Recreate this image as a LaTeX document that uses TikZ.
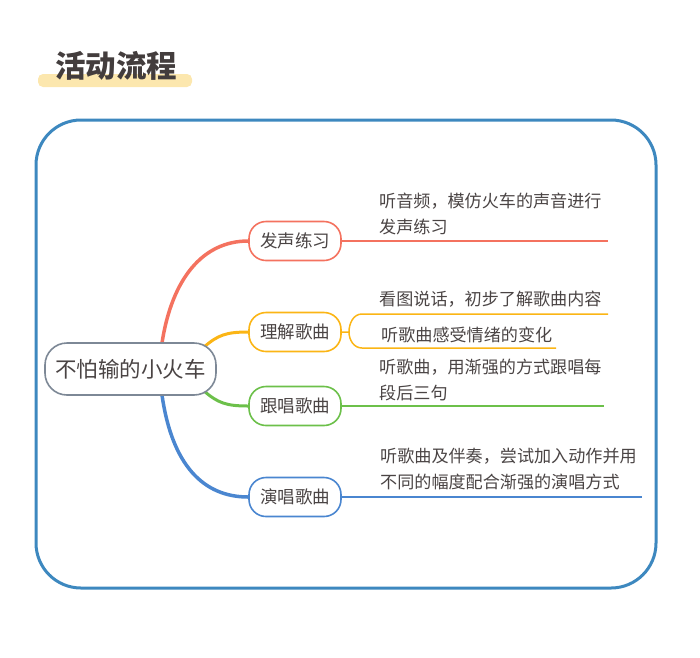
\documentclass[tikz,border=0pt]{standalone}
\usepackage{fontspec}
\setmainfont{Noto Sans CJK SC}
\usetikzlibrary{positioning}
\definecolor{txt}{HTML}{4A4444}
\definecolor{cred}{HTML}{F4725F}
\definecolor{cyel}{HTML}{FBB515}
\definecolor{cgrn}{HTML}{6CC04A}
\definecolor{cblu}{HTML}{4A86D0}
\definecolor{frm}{HTML}{3D88BF}
\definecolor{hilite}{HTML}{FCE7AE}
\definecolor{rootc}{HTML}{7D8896}

\begin{document}
\begin{tikzpicture}[x=1pt,y=-1pt,
  rootbox/.style = {draw=rootc, line width=1.6pt, rounded corners=22pt, fill=white, text=txt,
    minimum width=171pt, minimum height=52pt, font=\fontsize{21.5}{24}\selectfont},
  brbox/.style = {draw=#1, line width=1.6pt, rounded corners=17pt, fill=white, text=txt,
    minimum width=92pt, minimum height=39pt, font=\fontsize{17.5}{20}\selectfont},
  leaf/.style = {anchor=south west, inner sep=0pt, align=left, text=txt,
    font=\fontsize{17.1}{26}\selectfont}]
\useasboundingbox (0,0) rectangle (700,657);
% title
\fill[hilite, rounded corners=5pt] (38,74) rectangle (192,87);
\node (title) [text=txt!90!black, font=\fontsize{30.5}{33}\selectfont\bfseries] at (116,66) {活动流程};
\draw[frm, line width=3pt, rounded corners=45pt] (36,120) rectangle (656,588);
% curves under the nodes
\coordinate (r1) at (162,343);
\coordinate (r2) at (204,347);
\coordinate (r3) at (204,391);
\coordinate (r4) at (162,395);
\node (b1) [brbox=cred] at (295,241) {发声练习};
\node (b2) [brbox=cyel] at (295,332) {理解歌曲};
\node (b3) [brbox=cgrn] at (295,406) {跟唱歌曲};
\node (b4) [brbox=cblu] at (295,497) {演唱歌曲};
\draw[cred, line width=3.5pt] (r1) .. controls +(10,-65) and +(-45,0) .. (b1.west);
\draw[cyel, line width=3pt] (r2) .. controls +(14,-12) and +(-22,0) .. (b2.west);
\draw[cgrn, line width=3pt] (r3) .. controls +(14,12) and +(-22,0) .. (b3.west);
\draw[cblu, line width=3.5pt] (r4) .. controls +(10,70) and +(-45,0) .. (b4.west);
\node (root) [rootbox] at (130.5,369) {不怕输的小火车};
% leaves
\coordinate (e1) at (608,241);
\coordinate (y0) at (349,332);
\coordinate (ya) at (362,314);
\coordinate (yb) at (362,348);
\coordinate (e2) at (608,314);
\coordinate (e3) at (556,348);
\coordinate (e4) at (604,406);
\coordinate (e5) at (642,497);
\draw[cred, line width=1.5pt] (b1.east) -- (e1);
\draw[cyel, line width=1.5pt] (b2.east) -- (y0) to[out=90,in=180] (ya) -- (e2);
\draw[cyel, line width=1.5pt] (y0) to[out=-90,in=180] (yb) -- (e3);
\draw[cgrn, line width=1.5pt] (b3.east) -- (e4);
\draw[cblu, line width=1.5pt] (b4.east) -- (e5);
\node (t1) [leaf] at (379,235) {听音频，模仿火车的声音进行\\发声练习};
\node (t2) [leaf] at (379,308) {看图说话，初步了解歌曲内容};
\node (t3) [leaf] at (381,343) {听歌曲感受情绪的变化};
\node (t4) [leaf] at (379,401) {听歌曲，用渐强的方式跟唱每\\段后三句};
\node (t5) [leaf] at (380,490) {听歌曲及伴奏，尝试加入动作并用\\不同的幅度配合渐强的演唱方式};
\end{tikzpicture}
\end{document}
